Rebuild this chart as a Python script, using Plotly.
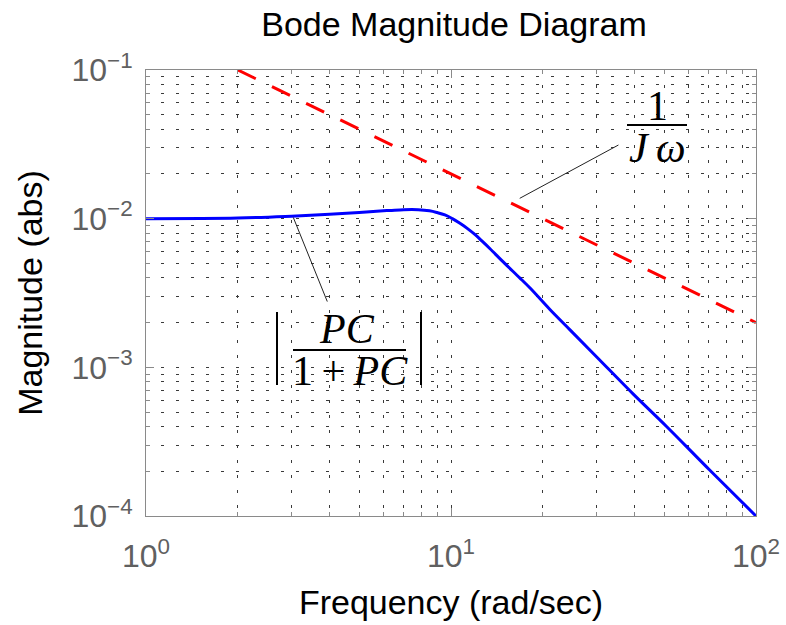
import plotly.graph_objects as go

# ---- data ----
omega_cl = [1, 2, 3, 4, 5, 6, 6.3, 7, 7.8, 8.5, 9.0, 9.55, 10.1, 10.7, 11.3, 12.0,
            12.7, 13.4, 15.0, 16.8, 18.2, 21.1, 24.6, 30.1, 39.6, 50.9, 70.6, 100]
mag_cl = [0.0100, 0.0101, 0.0104, 0.0107, 0.0110, 0.0113, 0.01135, 0.0115, 0.0115,
          0.0113, 0.0110, 0.0106, 0.0100, 0.0093, 0.0086, 0.0078, 0.0070, 0.0063,
          0.0050, 0.0040, 0.0034, 0.00245, 0.00178, 0.00117, 0.00066, 0.00040,
          0.000203, 0.0001]

omega_j = [2, 10, 100]
mag_j = [0.1, 0.02, 0.002]

# leader lines of the two labels (data coordinates)
lead_cl_x = [3.04, 3.93]
lead_cl_y = [0.0102, 0.00277]
lead_j_x = [16.8, 35.4]
lead_j_y = [0.0137, 0.0313]

x_tickvals = [1, 10, 100]
x_ticktext = ["10<sup>0</sup>", "10<sup>1</sup>", "10<sup>2</sup>"]
y_tickvals = [1e-4, 1e-3, 1e-2, 1e-1]
y_ticktext = ["10<sup>\u22124</sup>", "10<sup>\u22123</sup>", "10<sup>\u22122</sup>", "10<sup>\u22121</sup>"]

title_text = "Bode Magnitude Diagram"
x_title = "Frequency (rad/sec)"
y_title = "Magnitude (abs)"

SANS = "Liberation Sans, Arial, Helvetica, sans-serif"
SERIF = "Liberation Serif, DejaVu Serif, serif"
GRID = "#3a3a3a"
AXC = "#8a8a8a"

fig = go.Figure()
fig.add_trace(go.Scatter(x=omega_j, y=mag_j, mode="lines",
                         line=dict(color="#ff0000", width=3, dash="20px,18px"),
                         showlegend=False, hoverinfo="skip"))
fig.add_trace(go.Scatter(x=omega_cl, y=mag_cl, mode="lines",
                         line=dict(color="#0000ff", width=3, shape="spline", smoothing=1.0),
                         showlegend=False, hoverinfo="skip"))
fig.add_trace(go.Scatter(x=lead_cl_x, y=lead_cl_y, mode="lines",
                         line=dict(color="#222222", width=1),
                         showlegend=False, hoverinfo="skip"))
fig.add_trace(go.Scatter(x=lead_j_x, y=lead_j_y, mode="lines",
                         line=dict(color="#222222", width=1),
                         showlegend=False, hoverinfo="skip"))

axis_common = dict(
    type="log", automargin=False,
    ticks="inside", ticklen=8, tickcolor=AXC, tickwidth=1,
    showline=True, linecolor=AXC, linewidth=1, mirror="ticks",
    showgrid=True, gridcolor=GRID, gridwidth=1, griddash="3px,12px",
    zeroline=False,
    tickfont=dict(family=SANS, size=32, color="#606060"),
    minor=dict(dtick="D1", ticks="inside", ticklen=4, tickcolor=AXC,
               showgrid=True, gridcolor=GRID, gridwidth=1, griddash="3px,12px"),
)

fig.update_xaxes(**axis_common, range=[0, 2], tickvals=x_tickvals, ticktext=x_ticktext,
                 ticklabelstandoff=12,
                 title=dict(text=x_title, font=dict(family=SANS, size=34, color="#000"), standoff=16))
fig.update_yaxes(**axis_common, range=[-4, -1], tickvals=y_tickvals, ticktext=y_ticktext,
                 ticklabelstandoff=6,
                 title=dict(text=y_title, font=dict(family=SANS, size=34, color="#000"), standoff=18))

L, R, T, B = 146, 30, 70, 109
W, H = 786, 625
pw, ph = W - L - R, H - T - B


def px(xp):
    return (xp - L) / pw


def py(yp):
    return (H - B - yp) / ph


shapes = [
    dict(type="line", xref="paper", yref="paper", x0=px(627), x1=px(687), y0=py(125), y1=py(125),
         line=dict(color="#000", width=2)),
    dict(type="line", xref="paper", yref="paper", x0=px(293), x1=px(406), y0=py(350), y1=py(350),
         line=dict(color="#000", width=2)),
    dict(type="line", xref="paper", yref="paper", x0=px(277), x1=px(277), y0=py(312), y1=py(385),
         line=dict(color="#000", width=2)),
    dict(type="line", xref="paper", yref="paper", x0=px(421), x1=px(421), y0=py(312), y1=py(385),
         line=dict(color="#000", width=2)),
]

mf = dict(family=SERIF, size=42, color="#000")
annotations = [
    dict(text="1", xref="paper", yref="paper", x=px(657), y=py(106), showarrow=False, font=mf,
         xanchor="center", yanchor="middle"),
    dict(text="<i>J\u2009\u03c9</i>", xref="paper", yref="paper", x=px(657), y=py(148), showarrow=False,
         font=mf, xanchor="center", yanchor="middle"),
    dict(text="<i>PC</i>", xref="paper", yref="paper", x=px(347), y=py(329), showarrow=False,
         font=mf, xanchor="center", yanchor="middle"),
    dict(text="1\u2009+\u2009<i>PC</i>", xref="paper", yref="paper", x=px(350), y=py(371), showarrow=False,
         font=mf, xanchor="center", yanchor="middle"),
]

fig.update_layout(
    width=W, height=H,
    margin=dict(l=L, r=R, t=T, b=B, autoexpand=False),
    paper_bgcolor="#ffffff", plot_bgcolor="#ffffff",
    title=dict(text=title_text, xref="container", x=454 / W, xanchor="center",
               y=0.962, yanchor="middle",
               font=dict(family=SANS, size=34, color="#000")),
    shapes=shapes, annotations=annotations,
    showlegend=False,
)

fig.write_html("out.html", config={"displayModeBar": False},
               post_script="document.body.style.margin='0px';document.body.style.overflow='hidden';")
